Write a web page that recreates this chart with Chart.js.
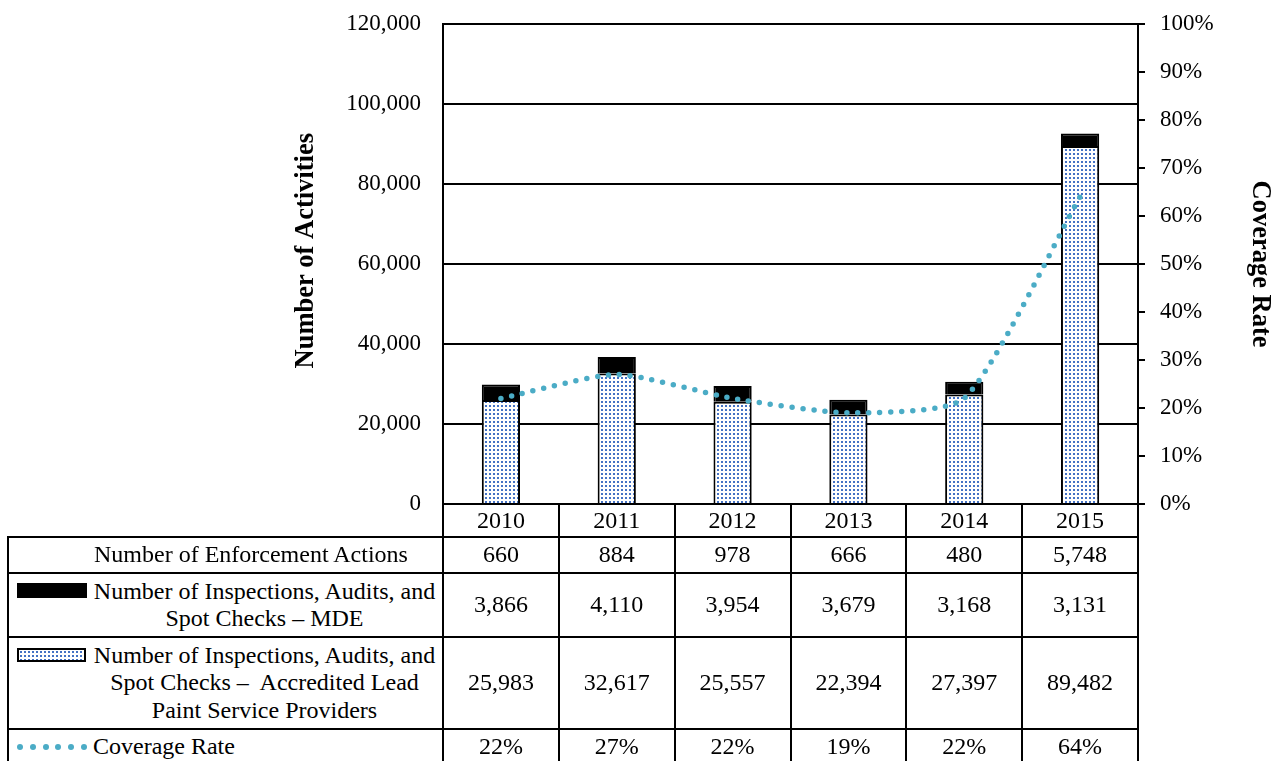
<!DOCTYPE html>
<html><head><meta charset="utf-8">
<script src="https://cdn.jsdelivr.net/npm/chart.js@4.4.1/dist/chart.umd.min.js"></script>
<style>
html,body{margin:0;padding:0;background:#fff;width:1273px;height:761px;overflow:hidden;}
#wrap{position:relative;width:1273px;height:761px;font-family:"Liberation Serif","Times New Roman",serif;color:#000;}
canvas#c{position:absolute;left:0;top:0;}
.hl{position:absolute;height:2px;background:#000;}
.vl{position:absolute;width:2px;background:#000;}
.cell{position:absolute;display:flex;align-items:center;justify-content:center;text-align:center;font-size:24px;line-height:27.5px;white-space:nowrap;}
.sw{position:absolute;box-sizing:border-box;}
.dot{position:absolute;width:6px;height:6px;border-radius:50%;background:#4bacc6;}
</style></head><body><div id="wrap"><canvas id="c" width="1273" height="537"></canvas><div id="tbl"></div></div>
<script>
// ---- data ----
const years = ['2010', '2011', '2012', '2013', '2014', '2015'];
const enforcementActions = [660, 884, 978, 666, 480, 5748];
const mdeChecks = [3866, 4110, 3954, 3679, 3168, 3131];
const providerChecks = [25983, 32617, 25557, 22394, 27397, 89482];
const coverageRate = [22, 27, 22, 19, 22, 64];
const rowLabels = [
  'Number of Enforcement Actions',
  'Number of Inspections, Audits, and<br>Spot Checks \u2013 MDE',
  'Number of Inspections, Audits, and<br>Spot Checks \u2013&nbsp; Accredited Lead<br>Paint Service Providers',
  'Coverage Rate'
];

const F = '"Liberation Serif","Times New Roman",serif';
const TARGET_TOP = 24, TARGET_BOTTOM = 504;
let padTop = TARGET_TOP, xAxisH = 33;

// dotted fill pattern
const pc = document.createElement('canvas');
pc.width = 4; pc.height = 4;
const pg = pc.getContext('2d');
pg.fillStyle = '#fff'; pg.fillRect(0, 0, 4, 4);
pg.fillStyle = '#4472c4'; pg.fillRect(1, 1, 2, 2);

const ctx = document.getElementById('c').getContext('2d');
const pattern = ctx.createPattern(pc, 'repeat');

const chart = new Chart(ctx, {
  data: {
    labels: years,
    datasets: [
      { type: 'line', label: 'Coverage Rate', data: coverageRate, yAxisID: 'y1',
        borderColor: '#4bacc6', borderWidth: 5.5, borderDash: [0, 11], borderCapStyle: 'round',
        pointRadius: 0, tension: 0.2, fill: false, order: 0 },
      { type: 'bar', label: 'Accredited Lead Paint Service Providers', data: providerChecks, yAxisID: 'y',
        backgroundColor: pattern, borderColor: '#000', borderWidth: 2, borderSkipped: 'start',
        barPercentage: 0.33, categoryPercentage: 1, order: 1 },
      { type: 'bar', label: 'MDE', data: mdeChecks, yAxisID: 'y',
        backgroundColor: '#000', borderColor: '#000', borderWidth: 2, borderSkipped: 'start',
        barPercentage: 0.33, categoryPercentage: 1, order: 1 }
    ]
  },
  options: {
    responsive: false, animation: false,
    layout: { padding: { top: padTop, left: 0, right: 0, bottom: 0 } },
    plugins: { legend: { display: false }, tooltip: { enabled: false } },
    scales: {
      x: {
        stacked: true, offset: true,
        grid: { offset: true, drawOnChartArea: false, drawTicks: true, tickLength: 33, color: '#000', lineWidth: 2 },
        border: { display: true, color: '#000', width: 2 },
        ticks: { font: { family: F, size: 24, lineHeight: 1.2 }, color: '#000', padding: -30, maxRotation: 0, autoSkip: false },
        afterFit(s) { s.height = xAxisH; }
      },
      y: {
        position: 'left', stacked: true, min: 0, max: 120000,
        ticks: { stepSize: 20000, callback: v => v.toLocaleString('en-US'), font: { family: F, size: 23, lineHeight: 0.05 }, color: '#000', padding: 22 },
        grid: { color: '#000', lineWidth: 2, drawTicks: false },
        border: { display: true, color: '#000', width: 2 },
        title: { display: true, text: '    Number of Activities', color: '#000',
                 font: { family: F, size: 26.5, weight: 'bold', lineHeight: 1 }, padding: { top: 293, bottom: 0 } },
        afterFit(s) { s.width = 443; }
      },
      y1: {
        position: 'right', min: 0, max: 100,
        ticks: { stepSize: 10, callback: v => v + '%', font: { family: F, size: 23, lineHeight: 0.05 }, color: '#000', padding: 15 },
        grid: { drawOnChartArea: false, color: '#000', lineWidth: 2, tickLength: 7 },
        border: { display: true, color: '#000', width: 2 },
        title: { display: true, text: 'Coverage Rate', color: '#000',
                 font: { family: F, size: 26.5, weight: 'bold', lineHeight: 1 }, padding: { top: 0, bottom: 0 } },
        afterFit(s) { s.width = 135; }
      }
    }
  }
});

// pin the plot area to the reference position
for (let k = 0; k < 3; k++) {
  const dt = chart.chartArea.top - TARGET_TOP;
  const db = TARGET_BOTTOM - chart.chartArea.bottom;
  if (Math.abs(dt) < 0.5 && Math.abs(db) < 0.5) break;
  padTop = Math.max(0, padTop - dt);
  xAxisH -= db;
  chart.options.layout.padding.top = padTop;
  chart.update();
}

// ---- data table, aligned to the chart's x scale ----
const tbl = document.getElementById('tbl');
const xs = chart.scales.x;
const L = chart.chartArea.left, R = chart.chartArea.right;
const cw = xs.getPixelForValue(1) - xs.getPixelForValue(0);
const tableLeft = 8;
const rowTops = [537, 573, 637, 729, 765];

function add(cls, style, html) {
  const d = document.createElement('div');
  d.className = cls;
  Object.assign(d.style, style);
  if (html !== undefined) d.innerHTML = html;
  tbl.appendChild(d);
  return d;
}
for (let r = 0; r < 4; r++) add('hl', { left: (tableLeft - 1) + 'px', top: (rowTops[r] - 1) + 'px', width: (R - tableLeft + 2) + 'px' });
const vx = [tableLeft, L];
for (let i = 1; i < years.length; i++) vx.push(xs.getPixelForValue(i) - cw / 2);
vx.push(R);
vx.forEach(x => add('vl', { left: (Math.round(x) - 1) + 'px', top: '536px', height: '230px' }));

const rows = [
  enforcementActions.map(v => v.toLocaleString('en-US')),
  mdeChecks.map(v => v.toLocaleString('en-US')),
  providerChecks.map(v => v.toLocaleString('en-US')),
  coverageRate.map(v => v + '%')
];
rows.forEach((vals, r) => {
  const top = rowTops[r], h = rowTops[r + 1] - rowTops[r];
  vals.forEach((v, i) => {
    const cx = xs.getPixelForValue(i);
    add('cell', { left: (cx - cw / 2) + 'px', top: top + 'px', width: cw + 'px', height: h + 'px' }, v);
  });
});
add('cell', { left: '92px', top: rowTops[0] + 'px', width: '318px', height: (rowTops[1] - rowTops[0]) + 'px' }, rowLabels[0]);
add('cell', { left: '92px', top: rowTops[1] + 'px', width: '345px', height: (rowTops[2] - rowTops[1]) + 'px' }, rowLabels[1]);
add('cell', { left: '92px', top: rowTops[2] + 'px', width: '345px', height: (rowTops[3] - rowTops[2]) + 'px' }, rowLabels[2]);
add('cell', { left: '93px', top: rowTops[3] + 'px', width: '345px', height: (rowTops[4] - rowTops[3]) + 'px', justifyContent: 'flex-start' }, rowLabels[3]);
add('sw', { left: '17px', top: '583px', width: '70px', height: '15px', background: '#000' });
add('sw', { left: '17px', top: '648px', width: '69px', height: '14px', border: '2px solid #000',
            backgroundImage: 'url(' + pc.toDataURL() + ')', backgroundRepeat: 'repeat' });
for (let k = 0; k < 6; k++) add('dot', { left: (17 + k * 12.8) + 'px', top: '744px' });
</script></body></html>
